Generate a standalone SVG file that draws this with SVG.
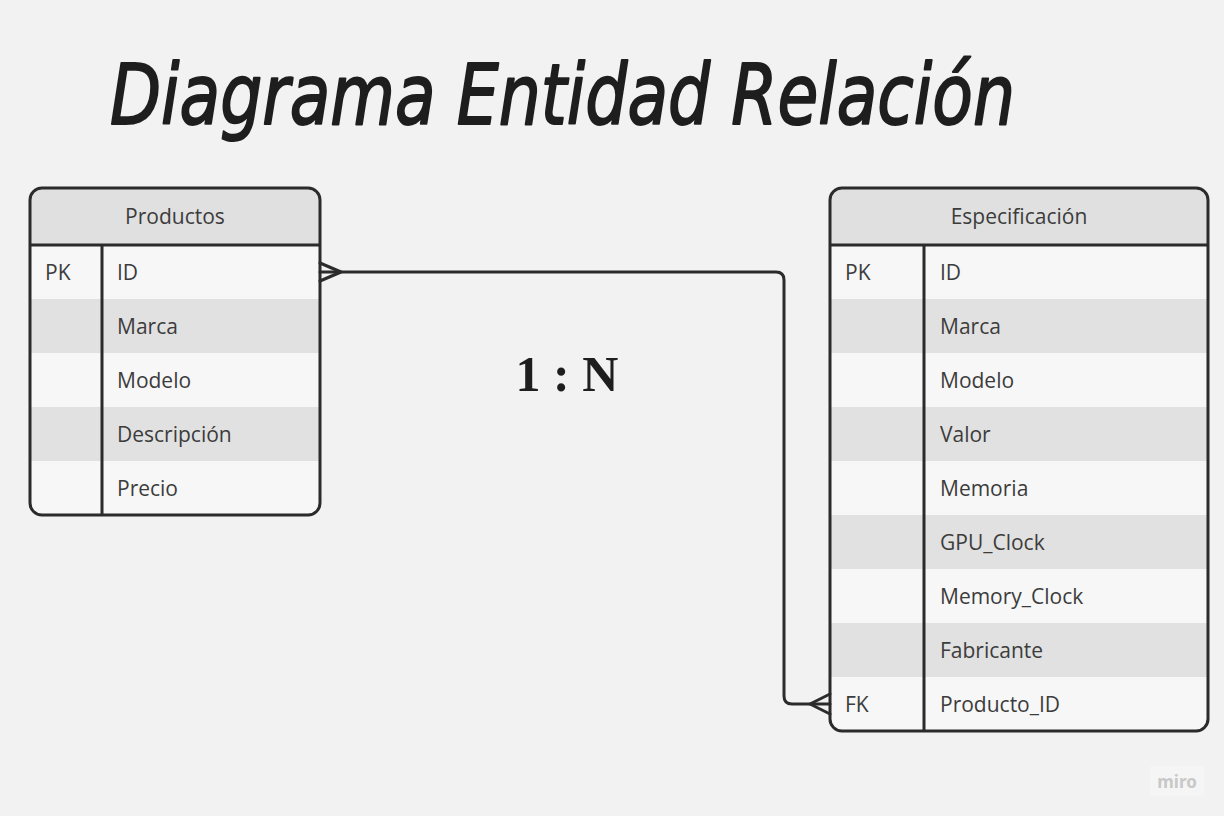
<svg xmlns="http://www.w3.org/2000/svg" width="1224" height="816" viewBox="0 0 1224 816">
<style>
.bg{fill:#f2f2f2}
.hdr{fill:#e0e0e0}
.r1{fill:#f7f7f7}
.r2{fill:#e1e1e1}
.frame{fill:none;stroke:#2b2b2b;stroke-width:3}
.div{stroke:#2b2b2b;stroke-width:3}
.t{font-family:"Open Sans","Noto Sans","Liberation Sans",sans-serif;font-size:21px;fill:#3c3c3c}
.th{font-family:"Open Sans","Noto Sans","Liberation Sans",sans-serif;font-size:21px;fill:#3c3c3c;text-anchor:middle}
.conn{fill:none;stroke:#2b2b2b;stroke-width:3;stroke-linejoin:round;stroke-linecap:round}
</style>
<defs>
<clipPath id="cp1"><rect x="30" y="188" width="290" height="327" rx="12"/></clipPath>
<clipPath id="cp2"><rect x="830" y="188" width="378" height="543" rx="12"/></clipPath>
</defs>
<rect class="bg" x="0" y="0" width="1224" height="816"/>
<text x="110" y="124" font-family="'DejaVu Sans','Noto Sans',sans-serif" font-style="italic" font-size="84" fill="#1e1e1e" stroke="#1e1e1e" stroke-width="2" stroke-linejoin="round" textLength="905" lengthAdjust="spacingAndGlyphs">Diagrama Entidad Relación</text>

<g id="productos">
<g clip-path="url(#cp1)">
<rect class="hdr" x="30" y="188" width="290" height="57"/>
<rect class="r1" x="30" y="245" width="290" height="54"/>
<rect class="r2" x="30" y="299" width="290" height="54"/>
<rect class="r1" x="30" y="353" width="290" height="54"/>
<rect class="r2" x="30" y="407" width="290" height="54"/>
<rect class="r1" x="30" y="461" width="290" height="54"/>
</g>
<line class="div" x1="30" y1="245" x2="320" y2="245"/>
<line class="div" x1="102" y1="245" x2="102" y2="515"/>
<rect class="frame" x="30" y="188" width="290" height="327" rx="12"/>
<text class="th" x="175" y="224">Productos</text>
<text class="t" x="45" y="280">PK</text>
<text class="t" x="117" y="280">ID</text>
<text class="t" x="117" y="334">Marca</text>
<text class="t" x="117" y="388">Modelo</text>
<text class="t" x="117" y="442">Descripción</text>
<text class="t" x="117" y="496">Precio</text>
</g>

<g id="especificacion">
<g clip-path="url(#cp2)">
<rect class="hdr" x="830" y="188" width="378" height="57"/>
<rect class="r1" x="830" y="245" width="378" height="54"/>
<rect class="r2" x="830" y="299" width="378" height="54"/>
<rect class="r1" x="830" y="353" width="378" height="54"/>
<rect class="r2" x="830" y="407" width="378" height="54"/>
<rect class="r1" x="830" y="461" width="378" height="54"/>
<rect class="r2" x="830" y="515" width="378" height="54"/>
<rect class="r1" x="830" y="569" width="378" height="54"/>
<rect class="r2" x="830" y="623" width="378" height="54"/>
<rect class="r1" x="830" y="677" width="378" height="54"/>
</g>
<line class="div" x1="830" y1="245" x2="1208" y2="245"/>
<line class="div" x1="924" y1="245" x2="924" y2="731"/>
<rect class="frame" x="830" y="188" width="378" height="543" rx="12"/>
<text class="th" x="1019" y="224">Especificación</text>
<text class="t" x="845" y="280">PK</text>
<text class="t" x="940" y="280">ID</text>
<text class="t" x="940" y="334">Marca</text>
<text class="t" x="940" y="388">Modelo</text>
<text class="t" x="940" y="442">Valor</text>
<text class="t" x="940" y="496">Memoria</text>
<text class="t" x="940" y="550">GPU_Clock</text>
<text class="t" x="940" y="604">Memory_Clock</text>
<text class="t" x="940" y="658">Fabricante</text>
<text class="t" x="845" y="712">FK</text>
<text class="t" x="940" y="712">Producto_ID</text>
</g>

<g id="connectors">
<path class="conn" d="M320 272 H776 Q784 272 784 280 V696 Q784 704 792 704 H830"/>
<path class="conn" d="M320 263 L341 272 L320 281"/>
<path class="conn" d="M830 694 L810 704 L830 714"/>
</g>

<text x="567" y="391" font-family="'Liberation Serif',serif" font-weight="bold" font-size="50" fill="#1e1e1e" text-anchor="middle">1 : N</text>

<g id="miro">
<rect x="1150" y="766" width="54" height="30" fill="#f5f5f5"/>
<text x="1177" y="788" font-family="'Noto Sans','Liberation Sans',sans-serif" font-weight="bold" font-size="17" fill="#c8c8c8" text-anchor="middle">miro</text>
</g>
</svg>
